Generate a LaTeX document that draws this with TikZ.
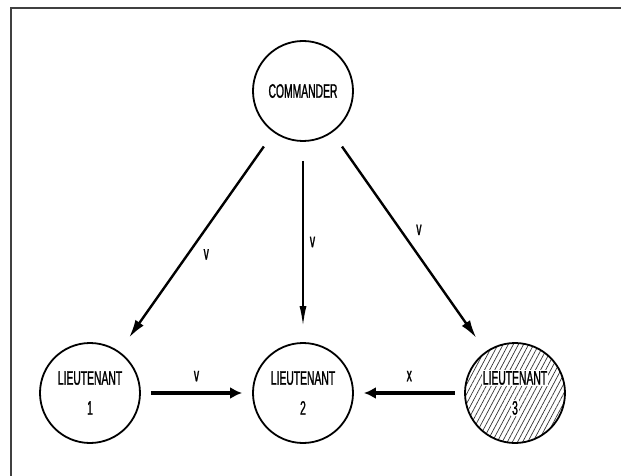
\documentclass[tikz,border=0pt]{standalone}
\usepackage{fontspec}
\newfontfamily\narrowsf[FakeStretch=0.53,FakeBold=1.2]{Liberation Sans}
\usetikzlibrary{arrows.meta,patterns.meta}
\setlength{\fboxsep}{1pt}

\begin{document}
\begin{tikzpicture}[auto, node distance=302pt, thick,
	main node/.style={circle,draw,line width=1.8pt,minimum size=100pt,inner sep=0pt,
		align=center,font=\narrowsf\fontsize{19.5}{30}\selectfont},
	order/.style={-{Latex[length=18pt,width=10pt]},line width=2.4pt,shorten <=17pt,shorten >=17pt},
	relay/.style={-{Latex[length=12pt,width=12pt]},line width=3.5pt,shorten <=10pt,shorten >=10pt}]

	\useasboundingbox (-303pt,-385pt) rectangle (318pt,91pt);
	\draw[line width=1.2pt,black!75] (-292pt,-385pt) -- (-292pt,83pt) -- (318pt,83pt);

	\node[main node] (C) {COMMANDER};
	\node[main node] (L2) [below of=C] {LIEUTENANT\\2};
	\node[main node] (L1) [left of=L2, node distance=213pt] {LIEUTENANT\\1};
	\node[main node, pattern={Lines[angle=62,distance=4.5pt,line width=0.7pt]}, pattern color=black!80]
		(L3) [right of=L2, node distance=212pt] {\colorbox{white}{LIEUTENANT}\\\colorbox{white}{3}};

	\path[every node/.style={font=\narrowsf\fontsize{19.5}{20}\selectfont,inner sep=6pt}]
	(C) edge[order] node {v} (L1)
	(C) edge[-{Latex[length=20pt,width=7pt]},line width=1.8pt,shorten <=19pt,shorten >=16pt] node {v} (L2)
	(C) edge[order] node {v} (L3)
	(L1) edge[relay] node[inner sep=10pt] {v} (L2)
	(L3) edge[relay] node[swap,inner sep=10pt] {x} (L2);
\end{tikzpicture}
\end{document}
